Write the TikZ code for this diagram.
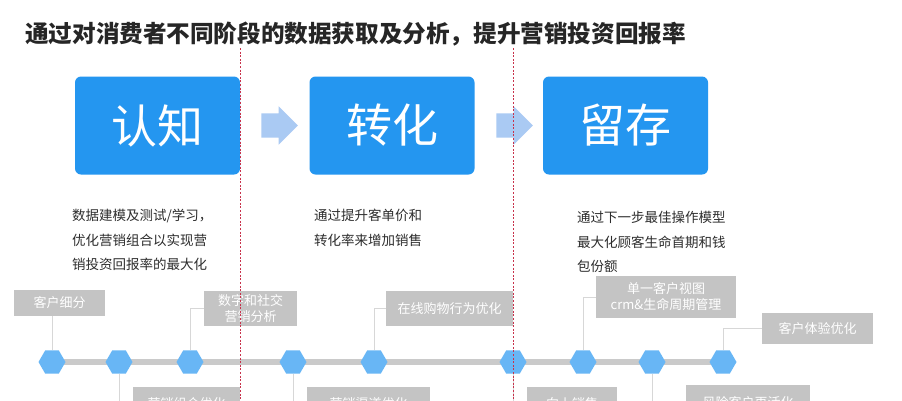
\documentclass[tikz,border=0pt]{standalone}
\usepackage{fontspec}
\newfontfamily\cjk{Noto Sans CJK SC}
\usetikzlibrary{shapes.geometric,shapes.arrows}

\definecolor{stageblue}{RGB}{36,150,240}
\definecolor{hexblue}{RGB}{104,182,245}
\definecolor{arrowblue}{RGB}{170,202,243}
\definecolor{tagGray}{RGB}{196,196,196}
\definecolor{lineGray}{RGB}{202,202,202}
\definecolor{linkGray}{RGB}{215,215,215}
\definecolor{cutRed}{RGB}{200,50,75}
\definecolor{txtDark}{RGB}{45,45,45}

\tikzset{
	stage/.style={fill=stageblue, rounded corners=6pt, minimum width=165pt, minimum height=98pt, text=white, font=\cjk\fontsize{46}{50}\selectfont, inner sep=0pt},
	flow/.style={single arrow, fill=arrowblue, draw=none, inner sep=12pt, minimum height=33pt, single arrow head extend=7pt},
	hexdot/.style={regular polygon, regular polygon sides=6, fill=hexblue, minimum size=27pt, inner sep=0pt},
	tag/.style={fill=tagGray, text=white, align=center, inner sep=0pt, font=\cjk\fontsize{13}{16}\selectfont},
	link/.style={draw=linkGray, line width=0.8pt},
	desc/.style={anchor=north west, align=left, inner sep=0pt, text=txtDark, font=\cjk\fontsize{13.5}{24.5}\selectfont},
	cut/.style={draw=cutRed, line width=0.7pt, dash pattern=on 2pt off 1.6pt}
}

\begin{document}
\begin{tikzpicture}[x=1pt,y=-1pt]
	\useasboundingbox (0,0) rectangle (902,400);
	\clip (0,0) rectangle (902,400);
	\fill[white] (0,0) rectangle (902,400);
	
	% title
	\node[anchor=west, inner sep=0pt, text=black!85, font=\cjk\bfseries\fontsize{23.6}{26}\selectfont] (title) at (25,34) {通过对消费者不同阶段的数据获取及分析，提升营销投资回报率};
	
	% stages
	\node[stage] (k1) at (157.5,125.5) {认知};
	\node[stage] (k2) at (392,125.5) {转化};
	\node[stage] (k3) at (625.5,125.5) {留存};
	\node[flow] (a1) at (273.5,125.5) {};
	\node[flow] (a2) at (508.5,125.5) {};
	
	% descriptions
	\node[desc] (d1) at (72,209) {数据建模及测试/学习，\\优化营销组合以实现营\\销投资回报率的最大化};
	\node[desc] (d2) at (314,209) {通过提升客单价和\\转化率来增加销售};
	\node[desc] (d3) at (577,211) {通过下一步最佳操作模型\\最大化顾客生命首期和钱\\包份额};
	
	% timeline
	\coordinate (t0) at (52,362);
	\coordinate (t1) at (723,362);
	\draw[draw=lineGray, line width=6pt] (t0) -- (t1);
	\node[hexdot] (h1) at (52,362) {};
	\node[hexdot] (h2) at (119,362) {};
	\node[hexdot] (h3) at (190,362) {};
	\node[hexdot] (h4) at (293,362) {};
	\node[hexdot] (h5) at (374,362) {};
	\node[hexdot] (h6) at (513,362) {};
	\node[hexdot] (h7) at (583,362) {};
	\node[hexdot] (h8) at (652,362) {};
	\node[hexdot] (h9) at (723,362) {};
	
	% upper tags
	\node[tag, minimum width=91pt, minimum height=26pt] (b1) at (59.5,303) {客户细分};
	\node[tag, minimum width=93pt, minimum height=35pt] (b2) at (250.5,308.5) {数字和社交\\营销分析};
	\node[tag, minimum width=127pt, minimum height=35pt] (b3) at (449.5,308.5) {在线购物行为优化};
	\node[tag, minimum width=140pt, minimum height=42pt] (b4) at (666,297) {单一客户视图\\crm\&生命周期管理};
	\node[tag, minimum width=111pt, minimum height=31pt] (b5) at (817.5,328.5) {客户体验优化};
	
	% lower tags
	\node[tag, minimum width=107pt, minimum height=34pt] (c1) at (186.5,404) {营销组合优化};
	\node[tag, minimum width=123pt, minimum height=34pt] (c2) at (368.5,404) {营销渠道优化};
	\node[tag, minimum width=90pt, minimum height=34pt] (c3) at (572,404) {向上销售};
	\node[tag, minimum width=124pt, minimum height=36pt] (c4) at (748,403) {风险客户再活化};
	
	% links
	\draw[link] (h1.north) -- (h1.north |- b1.south);
	\draw[link] (h3.north) |- (b2.west);
	\draw[link] (h5.north) |- (b3.west);
	\draw[link] (h7.north) |- (b4.west);
	\draw[link] (h9.north) |- (b5.west);
	\draw[link] (h2.south) |- (c1.west);
	\draw[link] (h4.south) |- (c2.west);
	\draw[link] (h6.south) |- (c3.west);
	\draw[link] (h8.south) |- (c4.west);
	
	% phase cuts
	\coordinate (s1) at (240,48);
	\coordinate (s2) at (513,48);
	\draw[cut] (s1) -- (s1 |- 0,400);
	\draw[cut] (s2) -- (s2 |- 0,400);
\end{tikzpicture}
\end{document}
